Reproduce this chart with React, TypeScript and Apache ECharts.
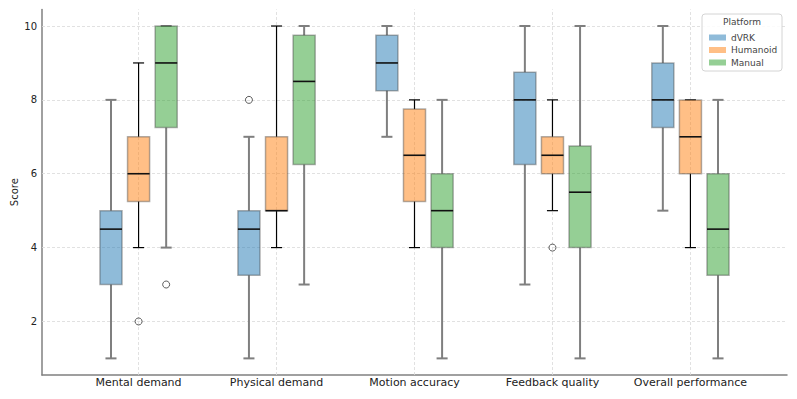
import React, { useEffect, useRef } from "react";
import * as echarts from "echarts";

const categories = ["Mental demand", "Physical demand", "Motion accuracy", "Feedback quality", "Overall performance"];
const platforms = ["dVRK", "Humanoid", "Manual"];

// [min, q1, median, q3, max] per category
const dvrkStats = [
  [1, 3, 4.5, 5, 8],
  [1, 3.25, 4.5, 5, 7],
  [7, 8.25, 9, 9.75, 10],
  [3, 6.25, 8, 8.75, 10],
  [5, 7.25, 8, 9, 10],
];
const humanoidStats = [
  [4, 5.25, 6, 7, 9],
  [4, 5, 5, 7, 10],
  [4, 5.25, 6.5, 7.75, 8],
  [5, 6, 6.5, 7, 8],
  [4, 6, 7, 8, 8],
];
const manualStats = [
  [4, 7.25, 9, 10, 10],
  [3, 6.25, 8.5, 9.75, 10],
  [1, 4, 5, 6, 8],
  [1, 4, 5.5, 6.75, 10],
  [1, 3.25, 4.5, 6, 8],
];
// [categoryIndex, value]
const dvrkOutliers = [[1, 8]];
const humanoidOutliers = [[0, 2], [3, 4]];
const manualOutliers = [[0, 3]];

const yTicks = [2, 4, 6, 8, 10];

const FONT = "DejaVu Sans";
const fills = ["rgba(31,119,180,0.5)", "rgba(255,127,14,0.5)", "rgba(44,160,44,0.5)"];
const legendFills = ["#8fbbd9", "#ffbf86", "#95cf95"];
const whiskerColors = ["#7f7f7f", "#000000", "#7f7f7f"];
const whiskerWidths = [2, 1.2, 2];
const offsets = [-0.2, 0, 0.2];
const BOX_W = 0.16;

export default function App() {
  const ref = useRef<HTMLDivElement>(null);
  useEffect(() => {
    if (!ref.current) return;
    const chart = echarts.init(ref.current, undefined, { renderer: "svg" });
    const allStats = [dvrkStats, humanoidStats, manualStats];
    const allOutliers = [dvrkOutliers, humanoidOutliers, manualOutliers];

    const boxSeries = platforms.map((p, si) => ({
      type: "custom",
      name: p,
      z: 3,
      itemStyle: { color: legendFills[si] },
      encode: { x: 0, y: [1, 2, 3, 4, 5] },
      data: allStats[si].map((s, i) => [i + offsets[si], ...s]),
      renderItem: (params: any, api: any) => {
        const x = api.value(0);
        const mn = api.value(1), q1 = api.value(2), md = api.value(3), q3 = api.value(4), mx = api.value(5);
        const halfW = api.size([BOX_W, 0])[0] / 2;
        const capHalf = halfW / 2;
        const pMin = api.coord([x, mn]);
        const pQ1 = api.coord([x, q1]);
        const pMd = api.coord([x, md]);
        const pQ3 = api.coord([x, q3]);
        const pMax = api.coord([x, mx]);
        const cx = pMin[0];
        const wStyle = { stroke: whiskerColors[si], lineWidth: whiskerWidths[si] };
        return {
          type: "group",
          children: [
            { type: "line", shape: { x1: cx, y1: pQ1[1], x2: cx, y2: pMin[1] }, style: wStyle },
            { type: "line", shape: { x1: cx, y1: pQ3[1], x2: cx, y2: pMax[1] }, style: wStyle },
            { type: "line", shape: { x1: cx - capHalf, y1: pMin[1], x2: cx + capHalf, y2: pMin[1] }, style: wStyle },
            { type: "line", shape: { x1: cx - capHalf, y1: pMax[1], x2: cx + capHalf, y2: pMax[1] }, style: wStyle },
            {
              type: "rect",
              shape: { x: cx - halfW, y: pQ3[1], width: halfW * 2, height: pQ1[1] - pQ3[1] },
              style: { fill: fills[si], stroke: "rgba(60,60,60,0.4)", lineWidth: 1.5 },
            },
            {
              type: "line",
              shape: { x1: cx - halfW, y1: pMd[1], x2: cx + halfW, y2: pMd[1] },
              style: { stroke: "#111", lineWidth: 1.6 },
            },
          ],
        };
      },
    }));

    const outlierSeries = platforms.map((p, si) => ({
      type: "scatter",
      name: p + " outliers",
      z: 4,
      symbol: "circle",
      symbolSize: 7,
      itemStyle: { color: "rgba(255,255,255,0)", borderColor: "#333", borderWidth: 1 },
      data: allOutliers[si].map((o) => [o[0] + offsets[si], o[1]]),
    }));

    const gridSeries = {
      type: "scatter",
      name: "grid",
      z: 1,
      data: [],
      silent: true,
      markLine: {
        z: 1,
        silent: true,
        symbol: ["none", "none"],
        label: { show: false },
        lineStyle: { type: [3, 2], color: "#d9d9d9", width: 0.8 },
        data: [
          ...yTicks.map((v) => ({ yAxis: v })),
          ...categories.map((_, i) => ({ xAxis: i })),
        ],
      },
    };

    chart.setOption({
      animation: false,
      textStyle: { fontFamily: FONT },
      grid: { left: 42, right: 10, top: 9.4, bottom: 24, containLabel: false, outerBoundsMode: "none" },
      xAxis: {
        type: "value",
        min: -0.7,
        max: 4.7,
        axisLine: { show: true, onZero: false, lineStyle: { color: "#808080", width: 1.5 } },
        axisTick: { show: false },
        splitLine: { show: false },
        axisLabel: {
          customValues: categories.map((_, i) => i),
          formatter: (v: number) => categories[Math.round(v)] ?? "",
          fontSize: 11,
          color: "#222",
          fontFamily: FONT,
          margin: 2,
        },
      },
      yAxis: {
        type: "value",
        min: 0.55,
        max: 10.45,
        name: "Score",
        nameLocation: "middle",
        nameGap: 23,
        nameMoveOverlap: false,
        nameTextStyle: { fontSize: 10, color: "#222", fontFamily: FONT },
        axisLine: { show: true, onZero: false, lineStyle: { color: "#808080", width: 1.5 } },
        axisTick: { show: false },
        splitLine: { show: false },
        axisLabel: {
          customValues: yTicks,
          fontSize: 10,
          color: "#222",
          fontFamily: FONT,
          margin: 5,
        },
      },
      legend: {
        z: 11,
        orient: "vertical",
        left: 704,
        top: 28,
        itemWidth: 17,
        itemHeight: 6,
        itemGap: 3.5,
        selectedMode: false,
        textStyle: { fontSize: 9, color: "#444", fontFamily: FONT },
        data: platforms.map((p, i) => ({ name: p, icon: "rect", itemStyle: { color: legendFills[i], borderWidth: 0 } })),
      },
      graphic: [
        {
          type: "rect",
          z: 10,
          shape: { x: 702, y: 14, width: 80, height: 57, r: 3 },
          style: { fill: "rgba(255,255,255,0.85)", stroke: "#d4d4d4", lineWidth: 1 },
        },
        {
          type: "text",
          z: 12,
          x: 742,
          y: 22,
          style: { text: "Platform", fontSize: 9, fill: "#444", fontFamily: FONT, align: "center", verticalAlign: "middle" },
        },
      ],
      series: [gridSeries, ...boxSeries, ...outlierSeries],
    });
    return () => chart.dispose();
  }, []);
  return <div ref={ref} style={{ position: "absolute", left: 0, top: 0, width: 797, height: 399 }} />;
}
